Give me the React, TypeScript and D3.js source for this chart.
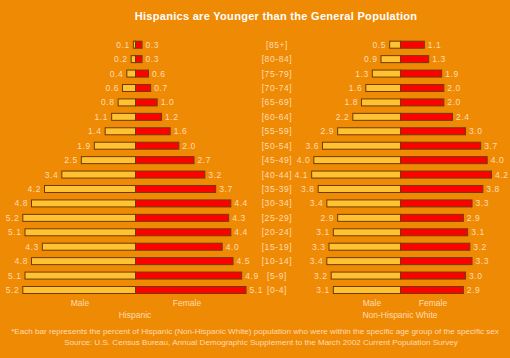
import React from "react"
import * as d3 from "d3"

// age groups, oldest on top
const ages = [
	"[85+]", "[80-84]", "[75-79]", "[70-74]", "[65-69]", "[60-64]",
	"[55-59]", "[50-54]", "[45-49]", "[40-44]", "[35-39]", "[30-34]",
	"[25-29]", "[20-24]", "[15-19]", "[10-14]", "[5-9]", "[0-4]",
]

const hispanicMale = [0.1, 0.2, 0.4, 0.6, 0.8, 1.1, 1.4, 1.9, 2.5, 3.4, 4.2, 4.8, 5.2, 5.1, 4.3, 4.8, 5.1, 5.2]
const hispanicFemale = [0.3, 0.3, 0.6, 0.7, 1.0, 1.2, 1.6, 2.0, 2.7, 3.2, 3.7, 4.4, 4.3, 4.4, 4.0, 4.5, 4.9, 5.1]
const whiteMale = [0.5, 0.9, 1.3, 1.6, 1.8, 2.2, 2.9, 3.6, 4.0, 4.1, 3.8, 3.4, 2.9, 3.1, 3.3, 3.4, 3.2, 3.1]
const whiteFemale = [1.1, 1.3, 1.9, 2.0, 2.0, 2.4, 3.0, 3.7, 4.0, 4.2, 3.8, 3.3, 2.9, 3.1, 3.2, 3.3, 3.0, 2.9]

const W = 510
const H = 358
const BG = "#ef8a05"
const MALE = "#ffc232"
const FEMALE = "#ff0000"
const STROKE = "#6e3c00"
const LABEL = "#ffdcb0"
const FONT = "'Liberation Sans', Arial, sans-serif"

const y = d3.scalePoint<string>().domain(ages).range([44.7, 290])
const x = d3.scaleLinear().domain([0, 6]).range([0, 130])
const barH = 8

type PyramidProps = {
	cx: number
	male: number[]
	female: number[]
	title: string
	maleX: number
	femaleX: number
}

const Pyramid = ({ cx, male, female, title, maleX, femaleX }: PyramidProps) => {
	const fmt = d3.format(".1f")
	return (
		<g>
			{ages.map((a, i) => {
				const yc = y(a) as number
				const mw = x(male[i])
				const fw = x(female[i])
				return (
					<g key={a}>
						<rect x={cx - mw + 0.5} y={yc - barH / 2 + 0.5} width={mw} height={barH - 1}
							fill={MALE} stroke={STROKE} strokeWidth={1} />
						<rect x={cx + 0.5} y={yc - barH / 2 + 0.5} width={fw} height={barH - 1}
							fill={FEMALE} stroke={STROKE} strokeWidth={1} />
						<text x={cx - mw - 3} y={yc} dy="0.35em" textAnchor="end"
							fontSize={8.5} letterSpacing={0.6} fill={LABEL}>{fmt(male[i])}</text>
						<text x={cx + fw + 4} y={yc} dy="0.35em" textAnchor="start"
							fontSize={8.5} letterSpacing={0.6} fill={LABEL}>{fmt(female[i])}</text>
					</g>
				)
			})}
			<text x={maleX} y={306} textAnchor="middle" fontSize={8.5} fill={LABEL}>Male</text>
			<text x={femaleX} y={306} textAnchor="middle" fontSize={8.5} fill={LABEL}>Female</text>
			<text x={cx} y={318} textAnchor="middle" fontSize={8.5} fill={LABEL}>{title}</text>
		</g>
	)
}

export default function App() {
	return (
		<svg width={W} height={H} style={{ position: "absolute", left: 0, top: 0 }} fontFamily={FONT}>
			<rect width={W} height={H} fill={BG} />
			<text x={276} y={20} textAnchor="middle" fontSize={11} fontWeight="bold" fill="#ffffff"
				letterSpacing={0.3}>
				Hispanics are Younger than the General Population
			</text>
			{ages.map(a => (
				<text key={a} x={277} y={y(a) as number} dy="0.35em" textAnchor="middle"
					fontSize={8.5} letterSpacing={0.6} fill={LABEL}>{a}</text>
			))}
			<Pyramid cx={135} male={hispanicMale} female={hispanicFemale} title="Hispanic" maleX={80} femaleX={187} />
			<Pyramid cx={400} male={whiteMale} female={whiteFemale} title="Non-Hispanic White" maleX={372} femaleX={433} />
			<text x={255} y={334} textAnchor="middle" fontSize={8.1} fill={LABEL}>
				*Each bar represents the percent of Hispanic (Non-Hispanic White) population who were within the specific age group of the specific sex
			</text>
			<text x={261} y={345} textAnchor="middle" fontSize={8.1} fill={LABEL}>
				Source: U.S. Census Bureau, Annual Demographic Supplement to the March 2002 Current Population Survey
			</text>
		</svg>
	)
}
